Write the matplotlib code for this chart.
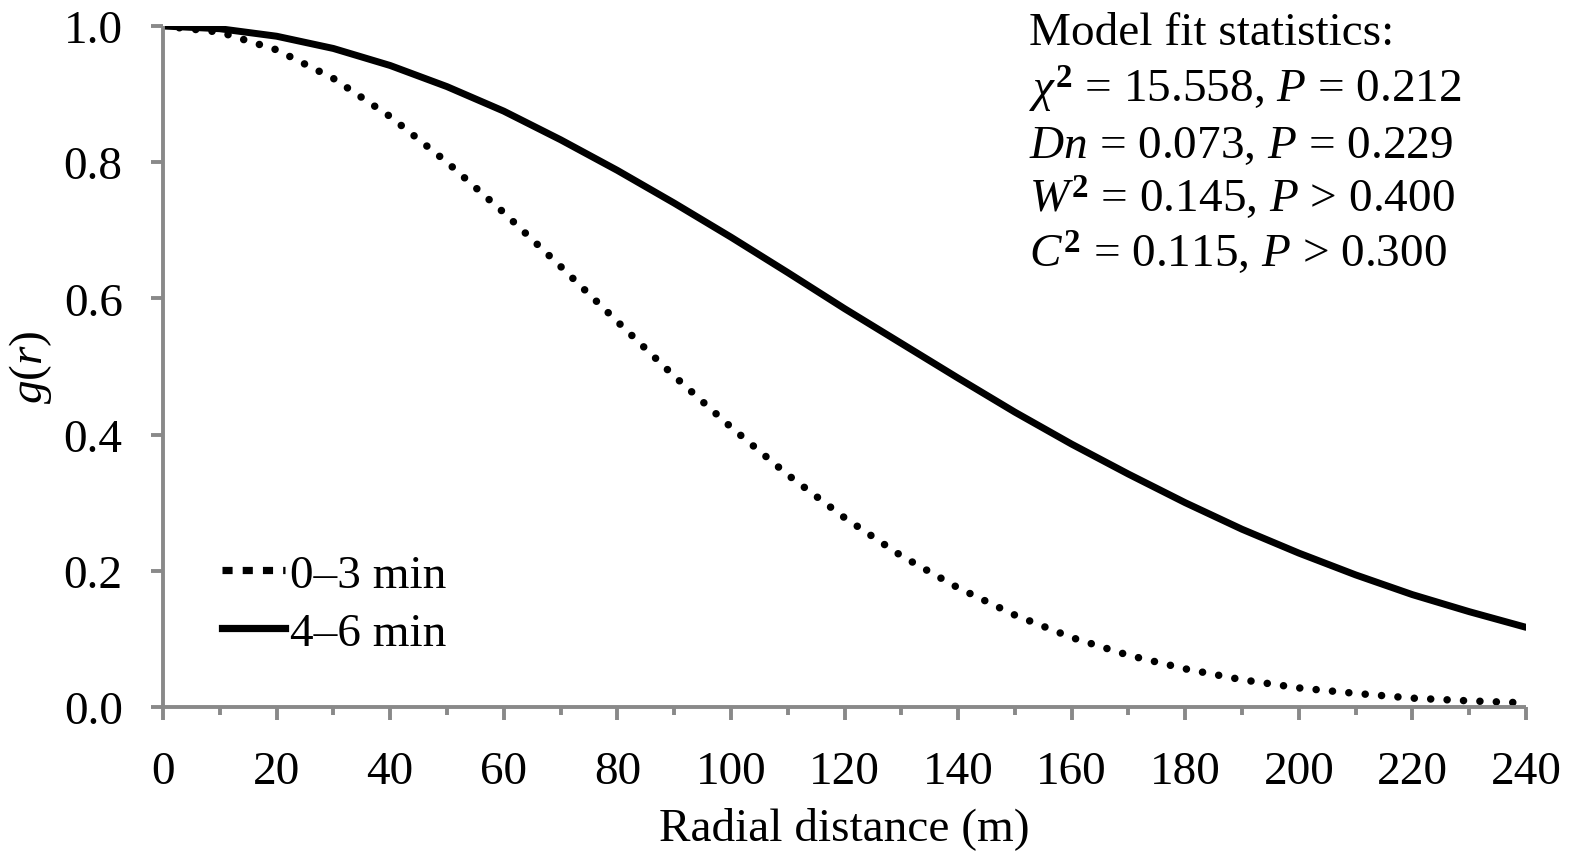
import matplotlib
matplotlib.use("Agg")
import matplotlib.pyplot as plt
from matplotlib.lines import Line2D
from matplotlib.ticker import MultipleLocator

# Radial distance (m) and fitted g(r) for the two time windows
radius = [0, 10, 20, 30, 40, 50, 60, 70, 80, 90, 100, 110, 120,
          130, 140, 150, 160, 170, 180, 190, 200, 210, 220, 230, 240]
g_0_3 = [1.000, 0.991, 0.965, 0.923, 0.867, 0.800, 0.726, 0.647, 0.566,
         0.486, 0.411, 0.341, 0.278, 0.222, 0.175, 0.135, 0.102, 0.076,
         0.056, 0.040, 0.028, 0.020, 0.013, 0.009, 0.006]
g_4_6 = [1.000, 0.996, 0.985, 0.967, 0.942, 0.911, 0.875, 0.833, 0.788,
         0.740, 0.690, 0.638, 0.585, 0.534, 0.483, 0.433, 0.386, 0.342,
         0.300, 0.261, 0.226, 0.194, 0.165, 0.140, 0.117]
labels = ["0\u20133 min", "4\u20136 min"]

stats_lines = [
    "Model fit statistics:",
    r"$\chi^\mathbf{2}$ = 15.558, $P$ = 0.212",
    r"$Dn$ = 0.073, $P$ = 0.229",
    r"$W^\mathbf{2}$ = 0.145, $P$ > 0.400",
    r"$C^\mathbf{2}$ = 0.115, $P$ > 0.300",
]

plt.rcParams['font.family'] = ['Liberation Serif', 'DejaVu Serif']
plt.rcParams['mathtext.fontset'] = 'custom'
plt.rcParams['mathtext.rm'] = 'Liberation Serif'
plt.rcParams['mathtext.it'] = 'Liberation Serif:italic'
plt.rcParams['mathtext.bf'] = 'Liberation Serif:bold'

FS = 34
AX_GRAY = '#898989'

W, H = 1574, 853
fig = plt.figure(figsize=(W / 100, H / 100), dpi=100)
ax = fig.add_axes([163 / W, 1 - 708 / H, (1526 - 163) / W, (708 - 27) / H])

# dotted = round dots, solid = thick line
ax.plot(radius, g_0_3, color='black', lw=5.4, ls=(0, (0.01, 2.18)),
        dash_capstyle='round', solid_capstyle='round')
ax.plot(radius, g_4_6, color='black', lw=5.0, solid_capstyle='round')

ax.set_xlim(0, 240)
ax.set_ylim(0, 1.0)
ax.xaxis.set_major_locator(MultipleLocator(20))
ax.xaxis.set_minor_locator(MultipleLocator(10))
ax.yaxis.set_major_locator(MultipleLocator(0.2))
ax.yaxis.set_major_formatter(matplotlib.ticker.FormatStrFormatter('%.1f'))

for side in ['top', 'right']:
    ax.spines[side].set_visible(False)
for side in ['left', 'bottom']:
    ax.spines[side].set_color(AX_GRAY)
    ax.spines[side].set_linewidth(2.8)
    ax.spines[side].set_capstyle('butt')

ax.tick_params(axis='both', which='major', direction='out', length=9,
               width=2.8, color=AX_GRAY, labelsize=FS)
ax.tick_params(axis='x', which='minor', direction='out', length=6,
               width=2.8, color=AX_GRAY)
ax.tick_params(axis='x', which='major', pad=22)
ax.tick_params(axis='y', which='major', pad=20)

ax.set_xlabel("Radial distance (m)", fontsize=FS)
ax.xaxis.label.set_va('baseline')
ax.xaxis.set_label_coords(0.5, (708 - 840) / 681)
ax.set_ylabel(r"$g$($r$)", fontsize=FS)
ax.yaxis.set_label_coords((54 - 163) / 1363, 0.5)

handles = [
    Line2D([], [], color='black', lw=5.2, ls=(0, (1.4, 1.4)), dash_capstyle='butt'),
    Line2D([], [], color='black', lw=5.2),
]
ax.legend(handles, labels, loc='center left', bbox_to_anchor=(0.043, 0.151),
          frameon=False, fontsize=FS, handlelength=1.35, handletextpad=0.1,
          labelspacing=0.31, borderpad=0, borderaxespad=0)

baselines = [45, 103, 158, 213, 268]
for line, yb in zip(stats_lines, baselines):
    fig.text(1029 / W, 1 - yb / H, line, fontsize=FS, va='baseline', ha='left')

fig.savefig("out.png", dpi=100, facecolor='white')
